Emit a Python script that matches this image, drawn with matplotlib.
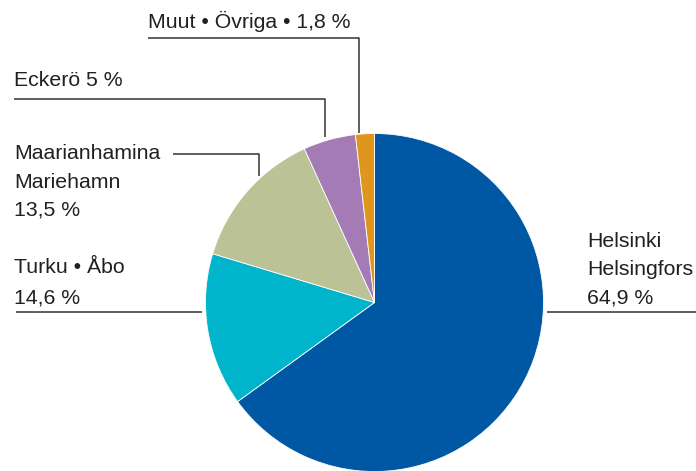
import matplotlib
matplotlib.use("Agg")
from matplotlib import pyplot as plt

# data
labels = ['Helsinki\nHelsingfors', 'Turku • Åbo', 'Maarianhamina\nMariehamn', 'Eckerö', 'Muut • Övriga']
shares = [64.9, 14.6, 13.5, 5.0, 1.8]
share_text = ['64,9 %', '14,6 %', '13,5 %', '5 %', '1,8 %']
colors = ['#0058a5', '#00b4cc', '#bbc396', '#a47bb5', '#e0961c']

W, H = 696, 471
fig = plt.figure(figsize=(W / 100, H / 100), dpi=100)
ax = fig.add_axes([0, 0, 1, 1])

ax.pie(shares, colors=colors, startangle=90, counterclock=False,
       center=(374.5, H - 302.5), radius=169, frame=True,
       wedgeprops=dict(edgecolor='white', linewidth=0.6))
ax.set_xlim(0, W)
ax.set_ylim(0, H)
ax.set_aspect('equal')
ax.axis('off')

plt.rcParams['font.family'] = ['Liberation Sans', 'DejaVu Sans']
fs = 15.3
tc = '#231f20'
lc = '#333333'


def put(x, y, s):
    # y given in image pixels (from top), baseline
    ax.text(x, H - y, s, fontsize=fs, color=tc, va='baseline', ha='left')


def line(xs, ys):
    ax.plot(xs, [H - v for v in ys], color=lc, linewidth=1.1, solid_capstyle='butt')


# Muut
put(148, 28, labels[4] + ' • ' + share_text[4])
line([148, 359, 359], [38, 38, 133])

# Eckerö
put(14, 86, labels[3] + ' ' + share_text[3])
line([14, 325, 325], [99, 99, 137])

# Maarianhamina
l1, l2 = labels[2].split('\n')
put(14, 159, l1)
put(14, 188, l2)
put(14, 216, share_text[2])
line([173, 259, 259], [154, 154, 176])

# Turku
put(14, 273, labels[1])
put(14, 303, share_text[1])
line([16, 202], [312, 312])

# Helsinki
h1, h2 = labels[0].split('\n')
put(587, 247, h1)
put(587, 275, h2)
put(587, 303, share_text[0])
line([547, 696], [312, 312])

fig.savefig('out.png', dpi=100)
